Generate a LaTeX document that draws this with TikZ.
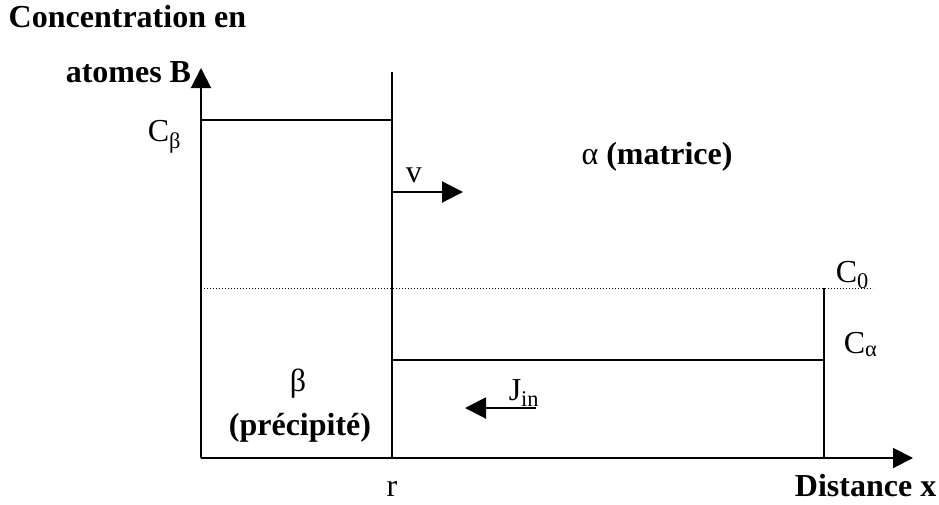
\documentclass[tikz,border=0pt]{standalone}
\usepackage{fontspec}
\setmainfont{Liberation Serif}
\usetikzlibrary{arrows.meta}
\begin{document}
\begin{tikzpicture}[x=1pt,y=-1pt,line width=1.5pt,
  lbl/.style={inner sep=0pt,font=\fontsize{32}{38}\selectfont},
  bl/.style={inner sep=0pt,font=\fontsize{32}{38}\selectfont\bfseries},
  axis/.style={line width=2pt,-{Triangle[length=20pt,width=20pt]}},
  tipr/.style={line width=2pt,-{Triangle[length=21pt,width=21pt]}},
  thin/.style={line width=1.5pt},
  dots/.style={line width=1pt,dotted}]
\useasboundingbox (0,0) rectangle (939,504);
% coordinates
\coordinate (O) at (201,458);
\coordinate (Ytop) at (201,68);
\coordinate (Xend) at (913,458);
\coordinate (Rtop) at (392,72);
\coordinate (Rbot) at (392,458);
\coordinate (Cb) at (201,120);
\coordinate (CbR) at (392,120);
\coordinate (C0L) at (201,288);
\coordinate (C0R) at (873,288);
\coordinate (C0V) at (824,288);
\coordinate (CaL) at (392,360);
\coordinate (CaR) at (824,360);
\coordinate (CaB) at (824,458);
\coordinate (Vs) at (392,192);
\coordinate (Ve) at (463,192);
\coordinate (Js) at (536,408);
\coordinate (Je) at (465,408);
% axes
\draw[axis] (O) -- (Ytop);
\draw[axis] (O) -- (Xend);
% lines
\draw[thin] (Rtop) -- (Rbot);
\draw[thin] (Cb) -- (CbR);
\draw[dots] (C0L) -- (C0R);
\draw[thin] (CaL) -- (CaR);
\draw[thin] (C0V) -- (CaB);
\draw[tipr] (Vs) -- (Ve);
\draw[tipr] (Js) -- (Je);
% labels
\node[bl,anchor=base west] (t1) at (8,27) {Concentration en};
\node[bl,anchor=base west] (t2) at (65,82) {atomes B};
\node[lbl,anchor=base west] (cb) at (147,141) {C\textsubscript{β}};
\node[lbl,anchor=base west] (v) at (405,182) {v};
\node[lbl,anchor=base] (alpha) at (657,164) {α \textbf{(matrice)}};
\node[lbl,anchor=base west] (c0) at (835,282) {C\textsubscript{0}};
\node[lbl,anchor=base west] (ca) at (843,353) {C\textsubscript{α}};
\node[lbl,anchor=base] (beta) at (298,391) {β};
\node[bl,anchor=base] (prec) at (300,435) {(précipité)};
\node[lbl,anchor=base west] (jin) at (508,400) {J\textsubscript{in}};
\node[lbl,anchor=base] (r) at (392,496) {r};
\node[bl,anchor=base east] (dist) at (937,496) {Distance x};
\end{tikzpicture}
\end{document}
